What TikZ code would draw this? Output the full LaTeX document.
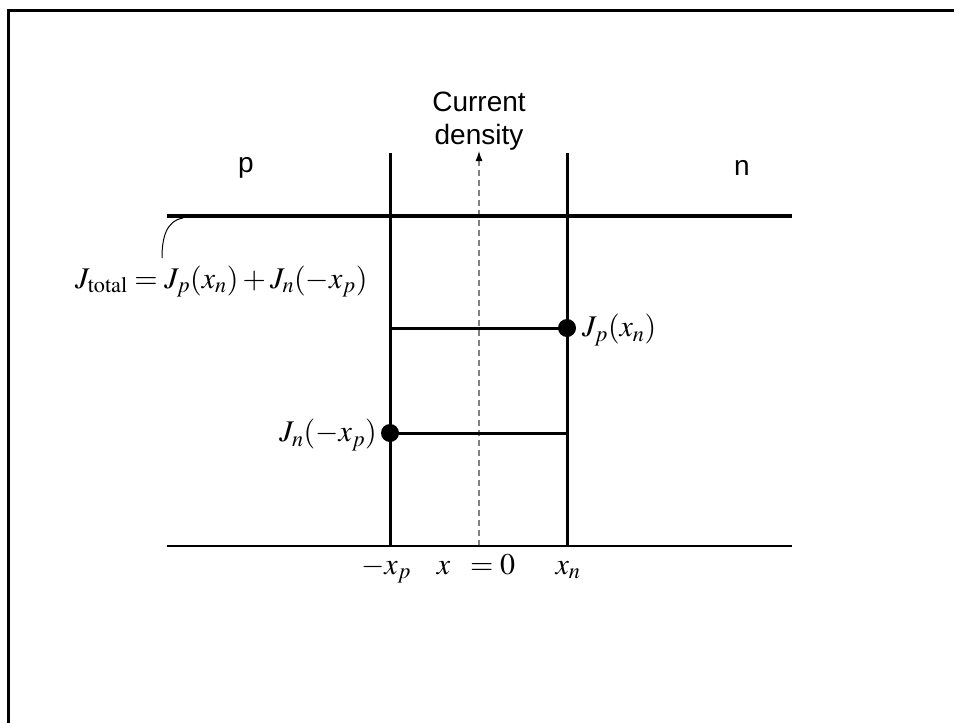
\documentclass[tikz,border=0pt]{standalone}
\usepackage{mathptmx}
\usepackage{fontspec}
\setsansfont{Liberation Sans}
\usetikzlibrary{arrows.meta}
\tikzset{
  frame/.style={line width=3pt},
  thickln/.style={line width=3.5pt},
  bar/.style={line width=3pt},
  axis/.style={line width=1.4pt},
  level/.style={line width=3pt},
  guide/.style={gray, line width=1.2pt, dash pattern=on 6pt off 4pt},
  dotnode/.style={circle, fill=black, inner sep=0pt, minimum size=18pt},
  sanslbl/.style={font=\sffamily\fontsize{28}{33}\selectfont, align=center},
  mathlbl/.style={font=\fontsize{30}{34}\selectfont, inner sep=0pt},
  leader/.style={line width=1pt}
}
\begin{document}
\begin{tikzpicture}[x=1pt,y=-1pt]
\useasboundingbox (0,0) rectangle (954,723);
% frame
\coordinate (F1) at (8,723);
\coordinate (F2) at (8,10);
\coordinate (F3) at (954,10);
\draw[frame] (F1) -- (F2) -- (F3);
% key points
\coordinate (L) at (167,216);
\coordinate (R) at (792,216);
\coordinate (A1) at (167,546);
\coordinate (A2) at (792,546);
\coordinate (XpT) at (390,153);
\coordinate (XpB) at (390,546);
\coordinate (XnT) at (567,153);
\coordinate (XnB) at (567,546);
\coordinate (O) at (479,546);
\coordinate (OT) at (479,151);
\coordinate (hp) at (390,328);
\coordinate (hn) at (567,433);
\coordinate (c1) at (183,218);
\coordinate (c2) at (162,258);
% lines
\draw[guide, -{Latex[length=10pt,width=7pt,black]}] (O) -- (OT);
\draw[thickln] (L) -- (R);
\draw[axis] (A1) -- (A2);
\draw[bar] (XpT) -- (XpB);
\draw[bar] (XnT) -- (XnB);
\node[dotnode] (dp) at (567,328) {};
\node[dotnode] (dn) at (390,433) {};
\draw[level] (hp) -- (dp.center);
\draw[level] (dn.center) -- (hn);
\draw[leader] (c1) .. controls (166,221) and (162,238) .. (c2);
% labels
\node[sanslbl] (cd) at (479,121) {Current\\density};
\node[sanslbl] (pl) at (246,168) {p};
\node[sanslbl] (nl) at (742,168) {n};
\node[mathlbl, anchor=base west] (jt) at (75,288) {$J_{\mathrm{total}} = J_p(x_n) + J_n(-x_p)$};
\node[mathlbl, anchor=west] (jp) at (582,330) {$J_p(x_n)$};
\node[mathlbl, anchor=east] (jn) at (377,435) {$J_n(-x_p)$};
\node[mathlbl, anchor=base] (bxp) at (386,574) {$-x_p$};
\node[mathlbl, anchor=base] (bx0) at (476,574) {$x\;\;=0$};
\node[mathlbl, anchor=base] (bxn) at (568,574) {$x_n$};
\end{tikzpicture}
\end{document}
